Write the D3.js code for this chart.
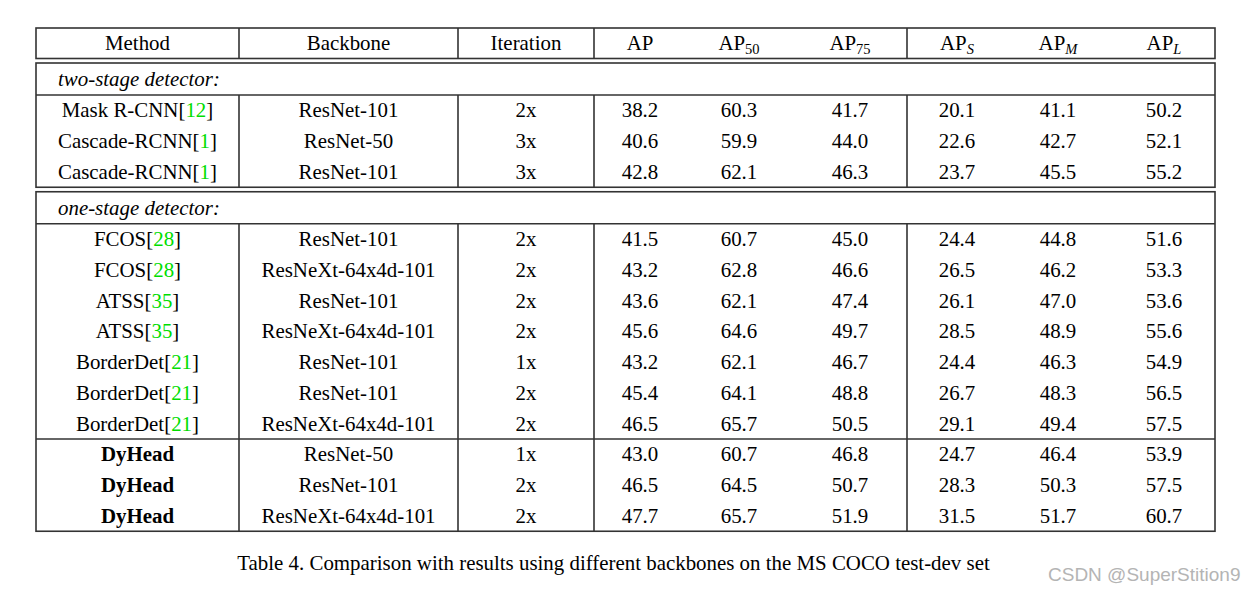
<!DOCTYPE html>
<html>
<head>
<meta charset="utf-8">
<script src="https://cdn.jsdelivr.net/npm/d3@7"></script>
<style>
  body { margin: 0; background: #fff; }
</style>
</head>
<body>
<div id="table"></div>
<script>
// column keys + header labels
const columns = ["method", "backbone", "iter", "ap", "ap50", "ap75", "apS", "apM", "apL"];
const headerBase = ["Method", "Backbone", "Iteration", "AP", "AP", "AP", "AP", "AP", "AP"];
const headerSub = ["", "", "", "", "50", "75", "S", "M", "L"];

const groupLabels = ["two-stage detector:", "one-stage detector:"];

// rows
const methods = ["Mask R-CNN", "Cascade-RCNN", "Cascade-RCNN", "FCOS", "FCOS", "ATSS", "ATSS", "BorderDet", "BorderDet", "BorderDet", "DyHead", "DyHead", "DyHead"];
const refs = ["12", "1", "1", "28", "28", "35", "35", "21", "21", "21", "", "", ""];
const groups = [0, 0, 0, 1, 1, 1, 1, 1, 1, 1, 1, 1, 1];
const ours = [false, false, false, false, false, false, false, false, false, false, true, true, true];
const backbones = ["ResNet-101", "ResNet-50", "ResNet-101", "ResNet-101", "ResNeXt-64x4d-101", "ResNet-101", "ResNeXt-64x4d-101", "ResNet-101", "ResNet-101", "ResNeXt-64x4d-101", "ResNet-50", "ResNet-101", "ResNeXt-64x4d-101"];
const iterations = ["2x", "3x", "3x", "2x", "2x", "2x", "2x", "1x", "2x", "2x", "1x", "2x", "2x"];

const ap   = [38.2, 40.6, 42.8, 41.5, 43.2, 43.6, 45.6, 43.2, 45.4, 46.5, 43.0, 46.5, 47.7];
const ap50 = [60.3, 59.9, 62.1, 60.7, 62.8, 62.1, 64.6, 62.1, 64.1, 65.7, 60.7, 64.5, 65.7];
const ap75 = [41.7, 44.0, 46.3, 45.0, 46.6, 47.4, 49.7, 46.7, 48.8, 50.5, 46.8, 50.7, 51.9];
const apS  = [20.1, 22.6, 23.7, 24.4, 26.5, 26.1, 28.5, 24.4, 26.7, 29.1, 24.7, 28.3, 31.5];
const apM  = [41.1, 42.7, 45.5, 44.8, 46.2, 47.0, 48.9, 46.3, 48.3, 49.4, 46.4, 50.3, 51.7];
const apL  = [50.2, 52.1, 55.2, 51.6, 53.3, 53.6, 55.6, 54.9, 56.5, 57.5, 53.9, 57.5, 60.7];

const caption = "Table 4. Comparison with results using different backbones on the MS COCO test-dev set";
const watermark = "CSDN @SuperStition9";

// layout
const serif = "'Liberation Serif', 'Times New Roman', serif";
const fs = 20.9;
const lineColor = "#333";
const left = 36, right = 1215;
const colEdges = [239, 458, 594, 907];
const xScale = d3.scaleOrdinal()
  .domain(columns)
  .range([137.5, 348.5, 526, 640, 739, 850, 957, 1058, 1164]);

const headerTop = 28, headerBottom = 58.5;
const boxGap = 4.5, labelH = 32, pitch = 30.75;

// boxes per group
const groupSizes = groupLabels.map((g, i) => groups.filter(d => d === i).length);
const boxes = [];
let y0 = headerBottom + boxGap;
groupSizes.forEach((n, i) => {
  const top = y0, lab = top + labelH, bottom = lab + n * pitch;
  boxes.push({ top, lab, bottom, n });
  y0 = bottom + boxGap;
});

const rows = methods.map((m, i) => ({
  method: m, ref: refs[i], group: groups[i], ours: ours[i],
  backbone: backbones[i], iter: iterations[i],
  ap: ap[i], ap50: ap50[i], ap75: ap75[i], apS: apS[i], apM: apM[i], apL: apL[i]
}));
// index in group
const counters = [0, 0];
rows.forEach(r => { r.k = counters[r.group]++; });

const rowY = (r) => {
  const b = boxes[r.group];
  const yScale = d3.scaleLinear().domain([0, b.n]).range([b.lab, b.bottom]);
  return yScale(r.k + 0.5);
};

const svg = d3.select("#table")
  .append("svg")
  .attr("width", 1255)
  .attr("height", 594)
  .style("background", "#fff");

const lines = svg.append("g")
  .attr("fill", "none")
  .attr("stroke", lineColor)
  .attr("stroke-width", 1.6);

// header box
lines.append("rect")
  .attr("x", left).attr("y", headerTop)
  .attr("width", right - left).attr("height", headerBottom - headerTop);
colEdges.forEach(x => {
  lines.append("line").attr("x1", x).attr("x2", x).attr("y1", headerTop).attr("y2", headerBottom);
});

// group boxes
boxes.forEach(b => {
  lines.append("rect")
    .attr("x", left).attr("y", b.top)
    .attr("width", right - left).attr("height", b.bottom - b.top);
  lines.append("line").attr("x1", left).attr("x2", right).attr("y1", b.lab).attr("y2", b.lab);
  colEdges.forEach(x => {
    lines.append("line").attr("x1", x).attr("x2", x).attr("y1", b.lab).attr("y2", b.bottom);
  });
});

// line above our rows
const firstOurs = rows.find(r => r.ours);
const oursY = rowY(firstOurs) - pitch / 2;
lines.append("line").attr("x1", left).attr("x2", right).attr("y1", oursY).attr("y2", oursY);

// header text
const headerY = (headerTop + headerBottom) / 2 + fs * 0.33;
const head = svg.append("g")
  .attr("font-family", serif)
  .attr("font-size", fs)
  .attr("fill", "#000")
  .attr("text-anchor", "middle");

columns.forEach((c, i) => {
  const t = head.append("text")
    .attr("x", xScale(c))
    .attr("y", headerY);
  t.append("tspan").text(headerBase[i]);
  if (headerSub[i]) {
    t.append("tspan")
      .attr("font-size", 14.5)
      .attr("dy", 4)
      .attr("font-style", /\d/.test(headerSub[i]) ? "normal" : "italic")
      .text(headerSub[i]);
  }
});

// group labels
svg.append("g")
  .selectAll("text")
  .data(boxes)
  .join("text")
  .attr("x", 58)
  .attr("y", d => (d.top + d.lab) / 2 + fs * 0.33)
  .attr("font-family", serif)
  .attr("font-size", fs)
  .attr("font-style", "italic")
  .text((d, i) => groupLabels[i]);

// body
const body = svg.append("g")
  .attr("font-family", serif)
  .attr("font-size", fs)
  .attr("fill", "#000")
  .attr("text-anchor", "middle");

const rowG = body.selectAll("g.row")
  .data(rows)
  .join("g")
  .attr("class", "row")
  .attr("transform", d => `translate(0,${rowY(d) + fs * 0.33})`);

const methodText = rowG.append("text")
  .attr("x", xScale("method"))
  .attr("font-weight", d => d.ours ? "bold" : "normal");
methodText.append("tspan").text(d => d.method);
methodText.filter(d => d.ref).append("tspan").text("[");
methodText.filter(d => d.ref).append("tspan").attr("fill", "#00dd00").text(d => d.ref);
methodText.filter(d => d.ref).append("tspan").text("]");

rowG.append("text").attr("x", xScale("backbone")).text(d => d.backbone);
rowG.append("text").attr("x", xScale("iter")).text(d => d.iter);

columns.slice(3).forEach(c => {
  rowG.append("text")
    .attr("x", xScale(c))
    .text(d => d[c].toFixed(1));
});

// caption
svg.append("text")
  .text(caption)
  .attr("x", 613.5)
  .attr("y", 570)
  .attr("text-anchor", "middle")
  .attr("font-family", serif)
  .attr("font-size", fs)
  .attr("fill", "#000");

// watermark
svg.append("text")
  .text(watermark)
  .attr("x", 1048)
  .attr("y", 581)
  .attr("font-family", "'Liberation Sans', Arial, sans-serif")
  .attr("font-size", 19)
  .attr("fill", "#b4b4b4");
</script>
</body>
</html>
